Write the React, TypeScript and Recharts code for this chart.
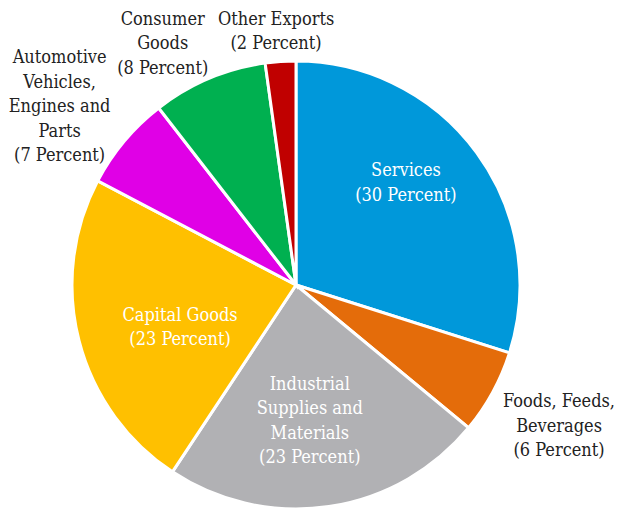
import React from 'react';
import { PieChart, Pie, Cell } from 'recharts';

// US exports by category, share of total
const categories = [
  'Services',
  'Foods, Feeds, Beverages',
  'Industrial Supplies and Materials',
  'Capital Goods',
  'Automotive Vehicles, Engines and Parts',
  'Consumer Goods',
  'Other Exports',
];
const shares = [29.9, 6.1, 23.3, 23.4, 6.8, 8.3, 2.2];
const labelLines = [
  ['Services', '(30 Percent)'],
  ['Foods, Feeds,', 'Beverages', '(6 Percent)'],
  ['Industrial', 'Supplies and', 'Materials', '(23 Percent)'],
  ['Capital Goods', '(23 Percent)'],
  ['Automotive', 'Vehicles,', 'Engines and', 'Parts', '(7 Percent)'],
  ['Consumer', 'Goods', '(8 Percent)'],
  ['Other Exports', '(2 Percent)'],
];

const colors = ['#0098DA', '#E46C0A', '#B1B1B4', '#FFC000', '#E000E6', '#00B050', '#C00000'];
const textColors = ['#fff', '#222', '#fff', '#fff', '#222', '#222', '#222'];
// label distance from centre and angle nudge from slice middle
const labelPlace = [
  { r: 151, da: 7.1 },
  { r: 298, da: 0.6 },
  { r: 135, da: -2.6 },
  { r: 123, da: 5.1 },
  { r: 297, da: 2.7 },
  { r: 277, da: 5.9 },
  { r: 256, da: 0.5 },
];

const data = categories.map((name, i) => ({ name, value: shares[i] }));
const RAD = Math.PI / 180;
const LINE_H = 24.5;
const FONT = "'DejaVu Serif Condensed', 'DejaVu Serif', serif";

const renderLabel = (props: any) => {
  const { cx, cy, midAngle, index } = props;
  const p = labelPlace[index];
  const a = (midAngle + p.da) * RAD;
  const x = cx + p.r * Math.cos(a);
  const y = cy - p.r * Math.sin(a);
  const lines = labelLines[index];
  const y0 = y - ((lines.length - 1) / 2) * LINE_H;
  return (
    <text
      x={x}
      y={y0}
      textAnchor="middle"
      dominantBaseline="central"
      fill={textColors[index]}
      fontFamily={FONT}
      fontSize={18}
      style={{ fontStretch: 'condensed' }}
    >
      {lines.map((l, k) => (
        <tspan key={k} x={x} y={y0 + k * LINE_H}>
          {l}
        </tspan>
      ))}
    </text>
  );
};

export default function App() {
  return (
    <div style={{ position: 'absolute', left: 0, top: 0, width: 620, height: 508, background: '#fff' }}>
      <PieChart width={620} height={508} margin={{ top: 0, right: 0, bottom: 0, left: 0 }}>
        <Pie
          data={data}
          dataKey="value"
          nameKey="name"
          cx={296}
          cy={285}
          outerRadius={224}
          startAngle={90}
          endAngle={-270}
          stroke="#fff"
          strokeWidth={3}
          label={renderLabel}
          labelLine={false}
          isAnimationActive={false}
        >
          {data.map((d, i) => (
            <Cell key={d.name} fill={colors[i]} />
          ))}
        </Pie>
      </PieChart>
    </div>
  );
}
